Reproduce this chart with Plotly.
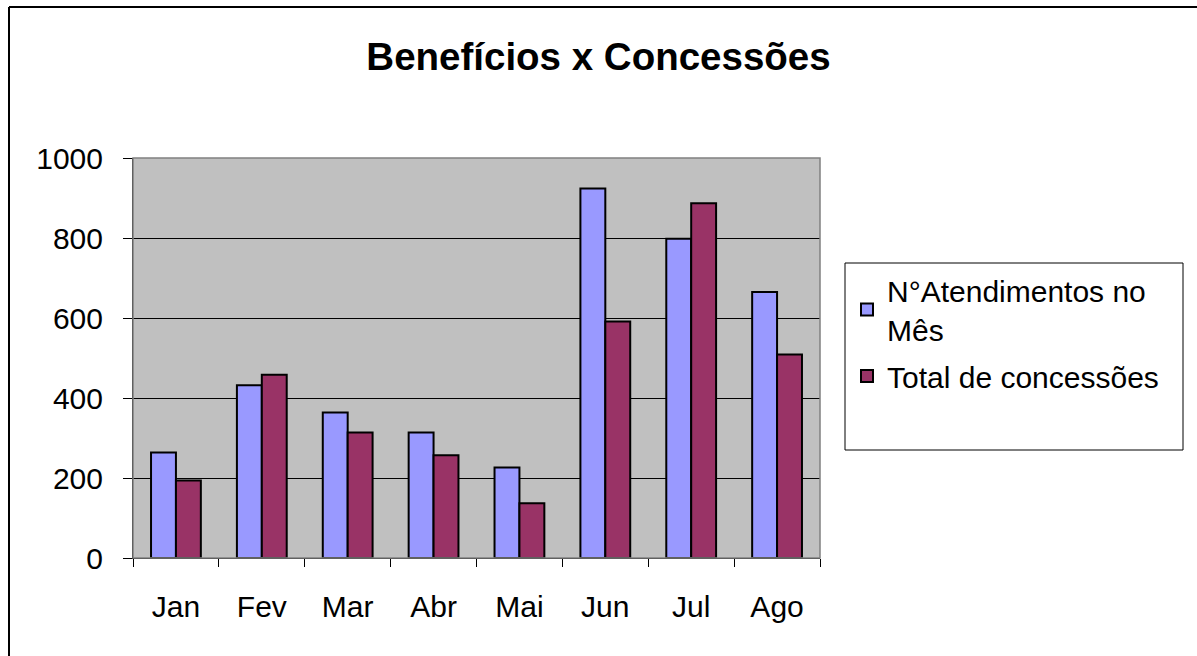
import plotly.graph_objects as go

months = ["Jan", "Fev", "Mar", "Abr", "Mai", "Jun", "Jul", "Ago"]
atendimentos = [264, 432, 364, 314, 226, 924, 798, 665]
concessoes = [194, 458, 314, 257, 137, 591, 887, 509]
series_names = ["N°Atendimentos no<br>Mês", "Total de concessões"]
y_ticks = [0, 200, 400, 600, 800, 1000]

W, H = 1197, 656
L, R, T, B = 133, 820, 158, 558

def px(x):
    return (x - L) / (R - L)

def py(y):
    return (B - y) / (B - T)

fig = go.Figure()
fig.add_trace(go.Bar(x=months, y=atendimentos, name=series_names[0], legendgroup="a",
                     marker=dict(color="#9999FF", line=dict(color="black", width=2))))
fig.add_trace(go.Bar(x=months, y=concessoes, name=series_names[1], legendgroup="b",
                     marker=dict(color="#993366", line=dict(color="black", width=2))))

font = "Arial, Liberation Sans, sans-serif"
fig.update_layout(
    width=W, height=H,
    margin=dict(l=L, r=W - R, t=T, b=H - B),
    paper_bgcolor="white", plot_bgcolor="#C0C0C0",
    barmode="group", bargap=0.42, bargroupgap=0,
    font=dict(family=font, size=30, color="black"),
    title=dict(text="<b>Benefícios x Concessões</b>", x=(367 + 830) / 2 / W, xanchor="center",
               y=1 - 57 / H, yanchor="middle", font=dict(size=38.5, family=font)),
    showlegend=True,
    legend=dict(x=px(847), y=py(264), xanchor="left", yanchor="top",
                bgcolor="rgba(0,0,0,0)", borderwidth=0, font=dict(size=30),
                traceorder="grouped", tracegroupgap=5, itemwidth=30),
    xaxis=dict(type="category", tickson="boundaries", ticks="outside", ticklen=8,
               tickcolor="black", showline=True, linecolor="black", linewidth=1,
               showgrid=False, tickfont=dict(size=30), ticklabelstandoff=22),
    yaxis=dict(range=[0, 1000], tickvals=y_ticks, ticks="outside", ticklen=9,
               tickcolor="black", showline=True, linecolor="black", linewidth=1,
               showgrid=True, gridcolor="black", gridwidth=1, zeroline=False,
               tickfont=dict(size=30), ticklabelstandoff=14),
    shapes=[
        dict(type="rect", xref="paper", yref="paper", x0=0, x1=1, y0=0, y1=1,
             line=dict(color="#808080", width=1.5), layer="above"),
        dict(type="rect", xref="paper", yref="paper", x0=px(845), x1=px(1183),
             y0=py(450), y1=py(263), line=dict(color="black", width=1)),
        dict(type="line", xref="paper", yref="paper", x0=px(9), x1=px(9),
             y0=py(7), y1=py(700), line=dict(color="black", width=2)),
        dict(type="line", xref="paper", yref="paper", x0=px(9), x1=px(1250),
             y0=py(7), y1=py(7), line=dict(color="black", width=2)),
    ],
)

fig.write_html("out.html", config={"displayModeBar": False},
               post_script="document.body.style.margin='0';")
